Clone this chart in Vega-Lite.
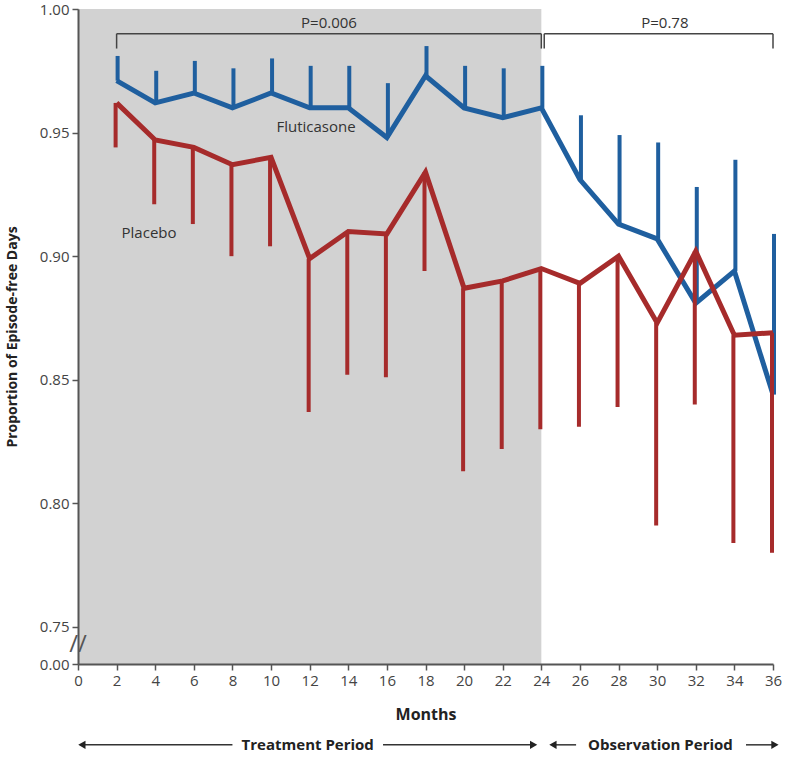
{
  "$schema": "https://vega.github.io/schema/vega-lite/v6.json",
  "width": 695,
  "height": 655,
  "autosize": {"type": "none"},
  "padding": {"left": 78, "top": 9, "right": 27, "bottom": 95},
  "background": "white",
  "config": {"view": {"stroke": null}, "font": "Open Sans"},
  "datasets": {
    "shade": [{"x": 0, "x2": 24, "y": 0.735, "y2": 1.0}],
    "series": [
      {"group": "Fluticasone", "x": 2, "y": 0.971, "y2": 0.981},
      {"group": "Fluticasone", "x": 4, "y": 0.962, "y2": 0.975},
      {"group": "Fluticasone", "x": 6, "y": 0.966, "y2": 0.979},
      {"group": "Fluticasone", "x": 8, "y": 0.960, "y2": 0.976},
      {"group": "Fluticasone", "x": 10, "y": 0.966, "y2": 0.980},
      {"group": "Fluticasone", "x": 12, "y": 0.960, "y2": 0.977},
      {"group": "Fluticasone", "x": 14, "y": 0.960, "y2": 0.977},
      {"group": "Fluticasone", "x": 16, "y": 0.948, "y2": 0.970},
      {"group": "Fluticasone", "x": 18, "y": 0.973, "y2": 0.985},
      {"group": "Fluticasone", "x": 20, "y": 0.960, "y2": 0.977},
      {"group": "Fluticasone", "x": 22, "y": 0.956, "y2": 0.976},
      {"group": "Fluticasone", "x": 24, "y": 0.960, "y2": 0.977},
      {"group": "Fluticasone", "x": 26, "y": 0.931, "y2": 0.957},
      {"group": "Fluticasone", "x": 28, "y": 0.913, "y2": 0.949},
      {"group": "Fluticasone", "x": 30, "y": 0.907, "y2": 0.946},
      {"group": "Fluticasone", "x": 32, "y": 0.881, "y2": 0.928},
      {"group": "Fluticasone", "x": 34, "y": 0.894, "y2": 0.939},
      {"group": "Fluticasone", "x": 36, "y": 0.844, "y2": 0.909},
      {"group": "Placebo", "x": 2, "y": 0.962, "y2": 0.944},
      {"group": "Placebo", "x": 4, "y": 0.947, "y2": 0.921},
      {"group": "Placebo", "x": 6, "y": 0.944, "y2": 0.913},
      {"group": "Placebo", "x": 8, "y": 0.937, "y2": 0.900},
      {"group": "Placebo", "x": 10, "y": 0.940, "y2": 0.904},
      {"group": "Placebo", "x": 12, "y": 0.899, "y2": 0.837},
      {"group": "Placebo", "x": 14, "y": 0.910, "y2": 0.852},
      {"group": "Placebo", "x": 16, "y": 0.909, "y2": 0.851},
      {"group": "Placebo", "x": 18, "y": 0.934, "y2": 0.894},
      {"group": "Placebo", "x": 20, "y": 0.887, "y2": 0.813},
      {"group": "Placebo", "x": 22, "y": 0.890, "y2": 0.822},
      {"group": "Placebo", "x": 24, "y": 0.895, "y2": 0.830},
      {"group": "Placebo", "x": 26, "y": 0.889, "y2": 0.831},
      {"group": "Placebo", "x": 28, "y": 0.900, "y2": 0.839},
      {"group": "Placebo", "x": 30, "y": 0.873, "y2": 0.791},
      {"group": "Placebo", "x": 32, "y": 0.902, "y2": 0.840},
      {"group": "Placebo", "x": 34, "y": 0.868, "y2": 0.784},
      {"group": "Placebo", "x": 36, "y": 0.869, "y2": 0.780}
    ],
    "brackets": [
      {"x": 2, "x2": 24, "y": 0.990, "y2": 0.990},
      {"x": 2, "x2": 2, "y": 0.990, "y2": 0.984},
      {"x": 24, "x2": 24, "y": 0.990, "y2": 0.984},
      {"x": 24.15, "x2": 36, "y": 0.990, "y2": 0.990},
      {"x": 24.15, "x2": 24.15, "y": 0.990, "y2": 0.984},
      {"x": 36, "x2": 36, "y": 0.990, "y2": 0.984}
    ],
    "labels": [
      {"x": 13, "y": 0.9943, "label": "P=0.006"},
      {"x": 30.4, "y": 0.9943, "label": "P=0.78"},
      {"x": 12.33, "y": 0.9523, "label": "Fluticasone"},
      {"x": 3.68, "y": 0.9094, "label": "Placebo"}
    ],
    "periodLines": [
      {"x": 0.1, "x2": 8.0, "y": 0.7023, "y2": 0.7023},
      {"x": 15.8, "x2": 23.6, "y": 0.7023, "y2": 0.7023},
      {"x": 24.6, "x2": 25.8, "y": 0.7023, "y2": 0.7023},
      {"x": 34.6, "x2": 36.1, "y": 0.7023, "y2": 0.7023}
    ],
    "arrowHeads": [
      {"x": 0.2, "y": 0.7023, "dir": "left"},
      {"x": 23.6, "y": 0.7023, "dir": "right"},
      {"x": 24.6, "y": 0.7023, "dir": "left"},
      {"x": 36.1, "y": 0.7023, "dir": "right"}
    ],
    "periods": [
      {"x": 11.9, "y": 0.7023, "label": "Treatment Period"},
      {"x": 30.17, "y": 0.7023, "label": "Observation Period"}
    ],
    "axisBreak": [{"x": 0, "y": 0.7427, "label": "//"}]
  },
  "encoding": {
    "x": {
      "field": "x",
      "type": "quantitative",
      "scale": {"domain": [0, 36], "nice": false, "zero": false},
      "axis": {
        "title": "Months",
        "values": [0, 2, 4, 6, 8, 10, 12, 14, 16, 18, 20, 22, 24, 26, 28, 30, 32, 34, 36],
        "grid": false,
        "zindex": 1,
        "domainColor": "#555555",
        "domainWidth": 2,
        "tickColor": "#555555",
        "tickWidth": 1.5,
        "tickSize": 6,
        "labelFontSize": 15,
        "labelColor": "#444444",
        "labelPadding": 3,
        "labelFlush": false,
        "titleFontSize": 16,
        "titleFontWeight": "bold",
        "titleColor": "#222222",
        "titlePadding": 18
      }
    },
    "y": {
      "field": "y",
      "type": "quantitative",
      "scale": {"domain": [0.735, 1.0], "nice": false, "zero": false},
      "axis": {
        "title": "Proportion of Episode-free Days",
        "values": [0.735, 0.75, 0.8, 0.85, 0.9, 0.95, 1.0],
        "labelExpr": "datum.value < 0.74 ? '0.00' : format(datum.value, '.2f')",
        "grid": false,
        "zindex": 1,
        "domainColor": "#555555",
        "domainWidth": 2,
        "tickColor": "#555555",
        "tickWidth": 1.5,
        "tickSize": 6,
        "labelFontSize": 15,
        "labelColor": "#444444",
        "labelPadding": 3,
        "labelFlush": false,
        "titleFontSize": 14,
        "titleFontWeight": "bold",
        "titleColor": "#222222",
        "titlePadding": 20
      }
    }
  },
  "layer": [
    {
      "data": {"name": "shade"},
      "mark": {"type": "rect", "color": "#d2d2d2"},
      "encoding": {"x2": {"field": "x2"}, "y2": {"field": "y2"}}
    },
    {
      "data": {"name": "series"},
      "transform": [{"filter": "datum.group === 'Fluticasone'"}],
      "mark": {"type": "rule", "color": "#1f5f9f", "strokeWidth": 4, "xOffset": 1},
      "encoding": {"y2": {"field": "y2"}}
    },
    {
      "data": {"name": "series"},
      "transform": [{"filter": "datum.group === 'Fluticasone'"}],
      "mark": {"type": "line", "color": "#1f5f9f", "strokeWidth": 5, "strokeJoin": "miter"},
      "encoding": {"order": {"field": "x"}}
    },
    {
      "data": {"name": "series"},
      "transform": [{"filter": "datum.group === 'Placebo'"}],
      "mark": {"type": "rule", "color": "#a62b2b", "strokeWidth": 4, "xOffset": -1},
      "encoding": {"y2": {"field": "y2"}}
    },
    {
      "data": {"name": "series"},
      "transform": [{"filter": "datum.group === 'Placebo'"}],
      "mark": {"type": "line", "color": "#a62b2b", "strokeWidth": 5, "strokeJoin": "miter"},
      "encoding": {"order": {"field": "x"}}
    },
    {
      "data": {"name": "brackets"},
      "mark": {"type": "rule", "color": "#444444", "strokeWidth": 1.5},
      "encoding": {"x2": {"field": "x2"}, "y2": {"field": "y2"}}
    },
    {
      "data": {"name": "labels"},
      "mark": {"type": "text", "fontSize": 15, "color": "#333333", "baseline": "middle", "align": "center"},
      "encoding": {"text": {"field": "label"}}
    },
    {
      "data": {"name": "periodLines"},
      "mark": {"type": "rule", "color": "#333333", "strokeWidth": 1.5},
      "encoding": {"x2": {"field": "x2"}, "y2": {"field": "y2"}}
    },
    {
      "data": {"name": "arrowHeads"},
      "mark": {"type": "point", "filled": true, "color": "#222222", "size": 70, "opacity": 1},
      "encoding": {
        "shape": {
          "field": "dir",
          "type": "nominal",
          "scale": {"domain": ["left", "right"], "range": ["triangle-left", "triangle-right"]},
          "legend": null
        }
      }
    },
    {
      "data": {"name": "periods"},
      "mark": {"type": "text", "fontSize": 15, "fontWeight": "bold", "color": "#222222", "baseline": "middle", "align": "center"},
      "encoding": {"text": {"field": "label"}}
    },
    {
      "data": {"name": "axisBreak"},
      "mark": {"type": "text", "fontSize": 24, "color": "#555555", "baseline": "middle", "align": "center"},
      "encoding": {"text": {"field": "label"}}
    }
  ]
}
